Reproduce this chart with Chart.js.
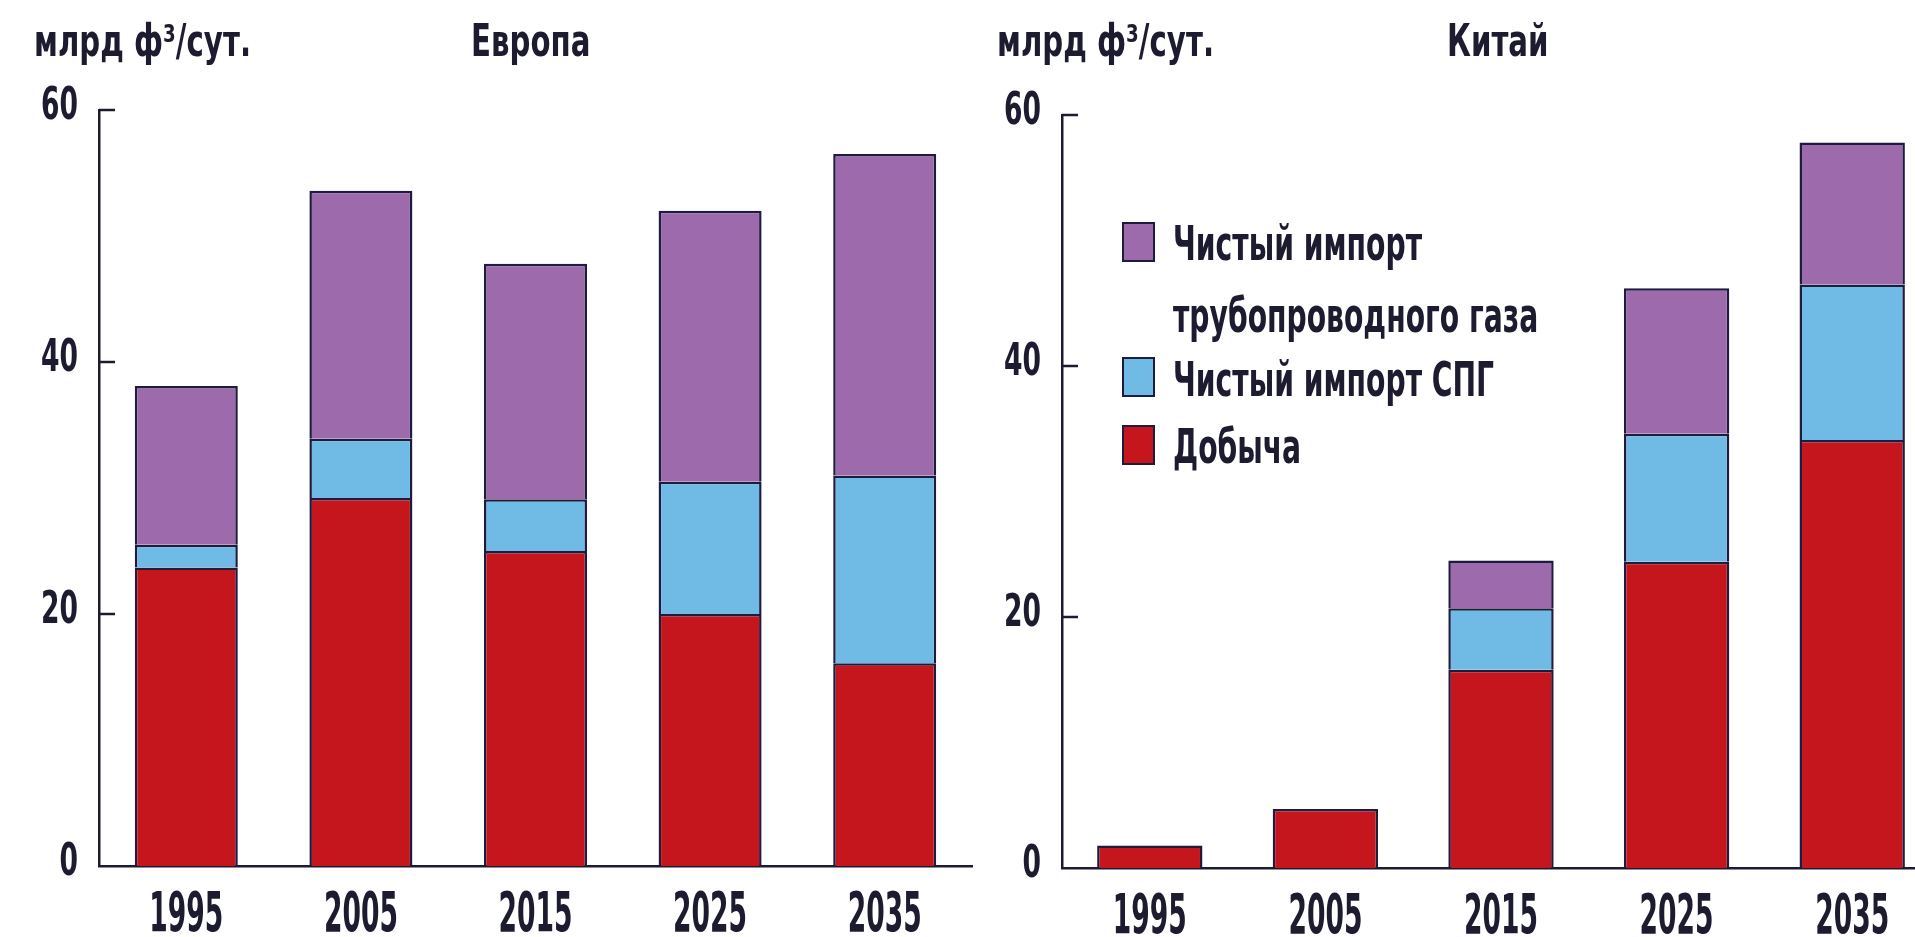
<!DOCTYPE html>
<html lang="ru">
<head>
<meta charset="utf-8">
<title>Европа / Китай</title>
<script src="https://cdn.jsdelivr.net/npm/chart.js@4.4.1/dist/chart.umd.min.js"></script>
<style>
  html, body { margin: 0; padding: 0; background: #fff; }
  body { position: relative; width: 1915px; height: 937px; overflow: hidden; }
  .wrap { position: absolute; top: 0; height: 937px; }
  .txt {
    position: absolute; white-space: nowrap; display: inline-block;
    font-family: 'Liberation Sans Narrow', 'DejaVu Sans Condensed', 'Liberation Sans', sans-serif;
    font-weight: bold; color: #1c1b30; line-height: 1; transform-origin: left center;
  }
  .box { position: absolute; width: 29px; height: 36px; border: 2px solid #1f1b3f; }
</style>
</head>
<body>
<div class="wrap" style="left:0; width:980px"><canvas id="europe"></canvas></div>
<div class="wrap" style="left:980px; width:980px"><canvas id="china"></canvas></div>
<div id="overlay"></div>

<script>
const years = ['1995', '2005', '2015', '2025', '2035'];
const yTicks = [0, 20, 40, 60];

// Европа, млрд ф3/сут.
const europeProduction = [23.7, 29.2, 25.0, 20.0, 16.1];
const europeLng        = [1.8, 4.7, 4.1, 10.5, 14.9];
const europePipeline   = [12.6, 19.7, 18.7, 21.5, 25.5];

// Китай
const chinaProduction = [1.8, 4.7, 15.8, 24.4, 34.1];
const chinaLng        = [null, null, 4.9, 10.2, 12.4];
const chinaPipeline   = [null, null, 3.8, 11.6, 11.3];

const seriesLabels = [['Добыча'], ['Чистый импорт СПГ'], ['Чистый импорт', 'трубопроводного газа']];
const seriesColors = ['#c5161d', '#6fbbe6', '#9d6aac'];

const INK = '#1c1b30';
const EDGE = '#1f1b3f';
const FONT = "'Liberation Sans Narrow', 'DejaVu Sans Condensed', 'Liberation Sans', sans-serif";

Chart.defaults.font.family = FONT;
Chart.defaults.animation = false;

function squeezeText(ctx, text, x, y, size, align, baseline, charW) {
    ctx.font = 'bold ' + size + 'px ' + FONT;
    const w = ctx.measureText(text).width;
    const k = Math.min(1, charW * text.length / w);
    ctx.save();
    ctx.translate(x, y);
    ctx.scale(k, 1);
    ctx.textAlign = align;
    ctx.textBaseline = baseline;
    ctx.fillText(text, 0, 0);
    ctx.restore();
}

// ticks pointing inward + condensed labels, placed by the chart's own scales
const axisDecor = {
    id: 'axisDecor',
    afterDraw(chart) {
        const { ctx, chartArea, scales } = chart;
        const x = scales.x, y = scales.y;
        ctx.save();
        ctx.fillStyle = INK;
        ctx.strokeStyle = INK;
        ctx.lineWidth = 2.5;
        y.ticks.forEach((t, i) => {
            const py = Math.round(y.getPixelForTick(i));
            if (t.value !== 0) {
                ctx.beginPath();
                ctx.moveTo(chartArea.left, py);
                ctx.lineTo(chartArea.left + 16, py);
                ctx.stroke();
            }
            squeezeText(ctx, String(t.value), chartArea.left - 21, py - 2, 44, 'right', 'middle', 18.5);
        });
        x.ticks.forEach((t, i) => {
            const px = x.getPixelForTick(i);
            squeezeText(ctx, x.getLabelForValue(t.value), px, chartArea.bottom + 65, 55, 'center', 'alphabetic', 18.5);
        });
        ctx.restore();
    }
};

function makeChart(id, series, pad, barPct) {
    const ctx = document.getElementById(id).getContext('2d');
    return new Chart(ctx, {
        type: 'bar',
        data: {
            labels: years,
            datasets: series.map((vals, i) => ({
                label: seriesLabels[i].join(' '),
                data: vals,
                backgroundColor: seriesColors[i],
                borderColor: EDGE,
                borderWidth: 2.5,
                categoryPercentage: barPct,
                barPercentage: 1
            }))
        },
        options: {
            responsive: true,
            maintainAspectRatio: false,
            layout: { padding: pad },
            plugins: {
                legend: { display: false },
                tooltip: { enabled: false }
            },
            scales: {
                x: {
                    stacked: true,
                    z: 1,
                    grid: { display: false },
                    ticks: { display: false },
                    border: { display: true, color: INK, width: 2.5 }
                },
                y: {
                    stacked: true,
                    min: 0,
                    max: 60,
                    afterBuildTicks: (scale) => { scale.ticks = yTicks.map(v => ({ value: v })); },
                    grid: { display: false },
                    ticks: { display: false },
                    border: { display: true, color: INK, width: 2.5 }
                }
            }
        },
        plugins: [axisDecor]
    });
}

makeChart('europe', [europeProduction, europeLng, europePipeline],
    { left: 91, right: 8, top: 110, bottom: 63 }, 0.59);
makeChart('china', [chinaProduction, chinaLng, chinaPipeline],
    { left: 74, right: 20, top: 115, bottom: 61 }, 0.6);

// titles and legend as html text
const overlay = document.getElementById('overlay');
function addText(text, left, baseline, size, cls) {
    const el = document.createElement('span');
    el.className = 'txt ' + cls;
    el.textContent = text;
    el.style.fontSize = size + 'px';
    el.style.left = left + 'px';
    el.style.top = (baseline - 0.846 * size) + 'px';
    overlay.appendChild(el);
    return el;
}
const unitE = addText('млрд ф³/сут.', 34, 56, 44, 'ttl');
addText('Европа', 471, 56, 44, 'ttl');
addText('млрд ф³/сут.', 997, 56, 44, 'ttl');
addText('Китай', 1447, 56, 44, 'ttl');

// legend, top entry first (reverse of stacking)
const legendTops = [425, 357, 222];
const legendBaselines = [[463], [396], [260, 332]];
let legendFirst = null;
seriesLabels.forEach((lines, i) => {
    const b = document.createElement('div');
    b.className = 'box';
    b.style.left = '1122px';
    b.style.top = legendTops[i] + 'px';
    b.style.background = seriesColors[i];
    overlay.appendChild(b);
    lines.forEach((ln, j) => {
        const el = addText(ln, 1173, legendBaselines[i][j], 48, 'leg');
        if (i === 2 && j === 0) legendFirst = el;
    });
});

function squeeze(cls, ref, target) {
    const k = Math.min(1, target / ref.getBoundingClientRect().width);
    document.querySelectorAll('.' + cls).forEach(el => { el.style.transform = 'scaleX(' + k + ')'; });
}
squeeze('ttl', unitE, 217);
squeeze('leg', legendFirst, 249);
</script>
</body>
</html>
